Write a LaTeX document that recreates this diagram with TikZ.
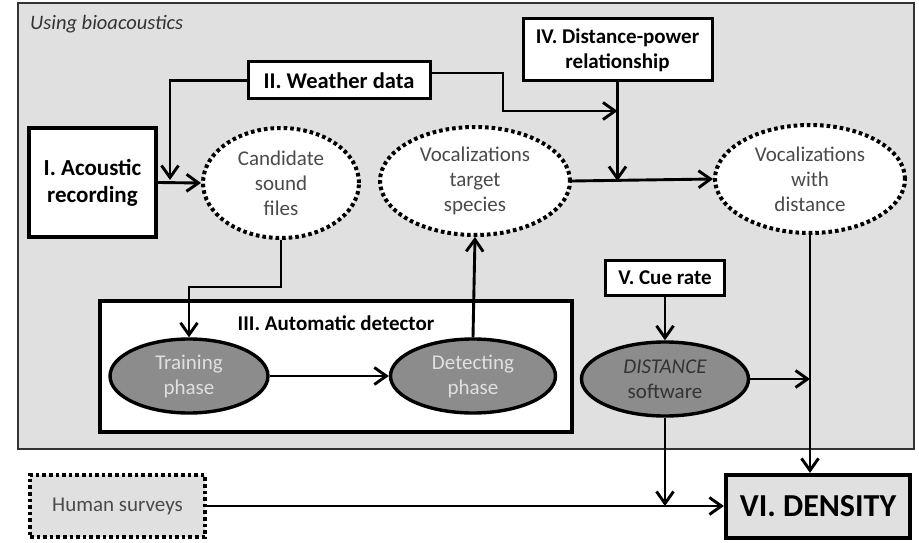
\documentclass[tikz,border=0pt]{standalone}
\usepackage{fontspec}
\setmainfont{Carlito}
\usetikzlibrary{arrows.meta,shapes.geometric}

\definecolor{panel}{HTML}{E0E0E0}
\definecolor{phase}{HTML}{8C8C8C}
\definecolor{softtext}{HTML}{4A4A4A}

\tikzset{
  conn/.style={line width=2.9pt, -{Straight Barb[length=12pt,width=17pt]}},
  stepbox/.style={draw, fill=white, line width=3pt, inner sep=0pt, align=center,
    font=\fontsize{21}{25}\selectfont\bfseries},
  heavybox/.style={stepbox, line width=4.2pt},
  dotell/.style={ellipse, draw, fill=white, inner sep=0pt, line width=4pt,
    dash pattern=on 3.6pt off 3pt, align=center, text=softtext,
    font=\fontsize{21}{25}\selectfont},
  phaseell/.style={ellipse, draw, fill=phase, inner sep=0pt, line width=3.4pt,
    align=center, text=white!88!black, font=\fontsize{21}{25}\selectfont},
}

\begin{document}
\begin{tikzpicture}[x=1pt,y=-1pt]
\useasboundingbox (0,0) rectangle (919,543);

% bioacoustics panel
\draw[draw=black!80, fill=panel, line width=1.8pt] (18,3) rectangle (914,449);
\node[anchor=west, inner sep=0pt, font=\fontsize{20.5}{24}\selectfont\itshape, text=black!80] (title) at (30,24) {Using bioacoustics};

% input boxes
\node[heavybox, minimum width=127pt, minimum height=109pt, font=\fontsize{23}{27}\selectfont\bfseries] (rec) at (92.5,182.5) {I. Acoustic\\recording};
\node[stepbox, minimum width=182pt, minimum height=37pt, font=\fontsize{22.5}{25}\selectfont\bfseries] (wx) at (339,80.5) {II. Weather data};
\node[stepbox, minimum width=189pt, minimum height=62pt] (dp) at (617.5,50) {IV. Distance-power\\relationship};
\node[stepbox, minimum width=119pt, minimum height=35pt] (cue) at (665,277.5) {V. Cue rate};

% automatic detector
\node[draw, fill=white, line width=4.2pt, minimum width=472pt, minimum height=131pt, inner sep=0pt] (det) at (336,366.5) {};
\node[font=\fontsize{21}{25}\selectfont\bfseries] (dettitle) at (336,323) {III. Automatic detector};
\node[phaseell, minimum width=158pt, minimum height=74pt] (train) at (189,376) {Training\\phase};
\node[phaseell, minimum width=165pt, minimum height=74pt] (detect) at (473,376) {Detecting\\phase};

% intermediate products
\node[dotell, minimum width=156pt, minimum height=110pt] (cand) at (281,183) {Candidate\\sound\\files};
\node[dotell, minimum width=190pt, minimum height=108pt] (target) at (475,181) {Vocalizations\\target\\species};
\node[dotell, minimum width=190pt, minimum height=108pt] (withd) at (810,179) {Vocalizations\\with\\distance};
\node[phaseell, minimum width=167pt, minimum height=74pt, text=black!80] (dist) at (665,379) {\textit{DISTANCE}\\software};

% outputs
\node[dotell, shape=rectangle, fill=panel, minimum width=175pt, minimum height=62pt, line width=3.6pt] (hs) at (117.5,506) {Human surveys};
\node[heavybox, fill=panel, minimum width=184pt, minimum height=63pt, font=\fontsize{32}{36}\selectfont\bfseries] (vi) at (818,506.5) {VI. DENSITY};

% junction points
\coordinate (wdrop) at (170,180);
\coordinate (wknee) at (503,73);
\coordinate (mj) at (617.5,181);
\coordinate (ctrain) at (281,287);

% connectors
\draw[conn] (rec.east) -- (cand.west);
\draw[conn] (wx.west) -| (wdrop);
\draw[conn] ([yshift=7.5pt]wx.east) -- (wknee) |- (dp.south |- 0,111);
\draw[conn] (dp.south) -- (mj);
\draw[conn] (target.east) -- (withd.west);
\draw[conn] (cand.south) -- (ctrain) -| (train.north);
\draw[conn] (train.east) -- (detect.west);
\draw[conn] (detect.north) -- (target.south);
\draw[conn] (cue.south) -- (dist.north);
\draw[conn] (dist.east) -- (dist.east -| withd.south);
\draw[conn] (withd.south) -- (withd.south |- vi.north);
\draw[conn] (dist.south) -- (dist.south |- hs.east);
\draw[conn] (hs.east) -- (vi.west |- hs.east);
\end{tikzpicture}
\end{document}
